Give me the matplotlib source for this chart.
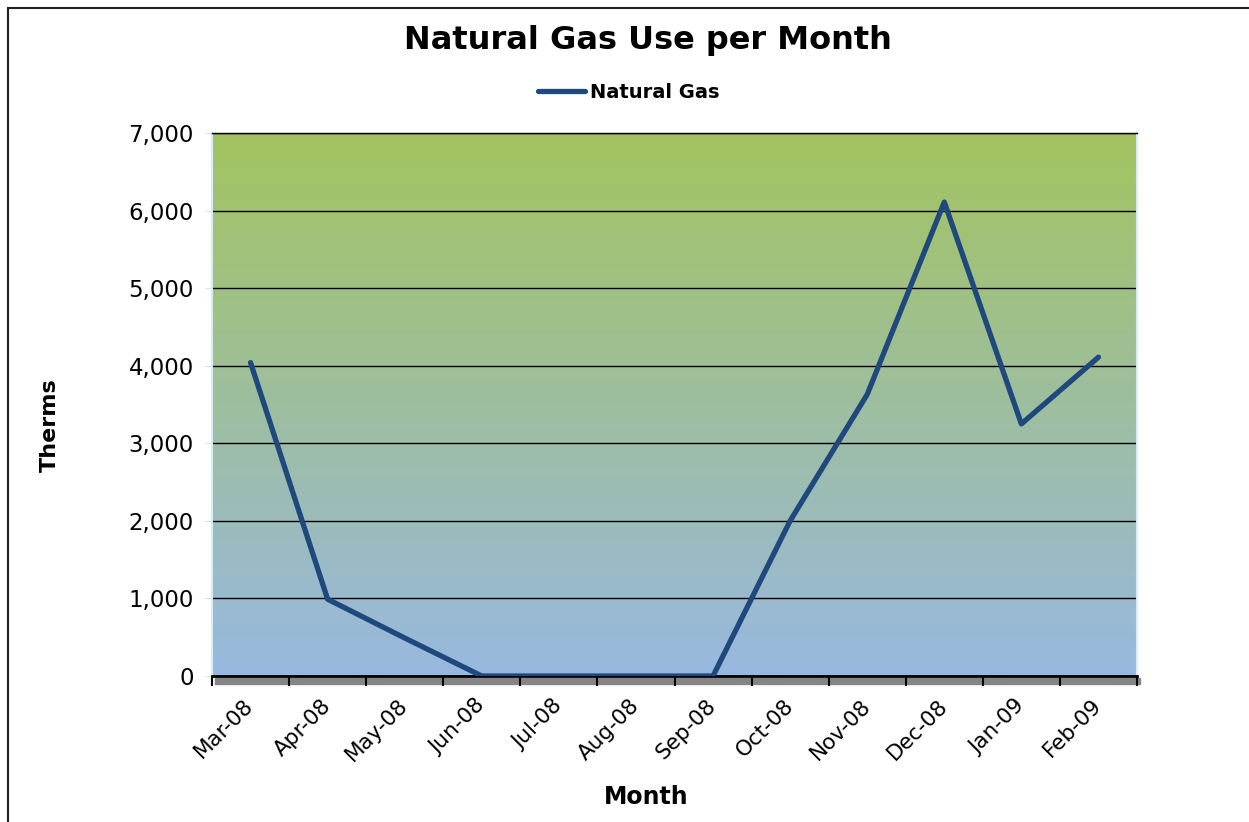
import numpy as np
import matplotlib.pyplot as plt
import matplotlib.transforms as mtransforms
from matplotlib.patches import Rectangle
from matplotlib.ticker import FuncFormatter

months = ["Mar-08", "Apr-08", "May-08", "Jun-08", "Jul-08", "Aug-08",
          "Sep-08", "Oct-08", "Nov-08", "Dec-08", "Jan-09", "Feb-09"]
therms = [4040, 990, 490, 0, 0, 0, 0, 2000, 3630, 6110, 3250, 4110]

plt.rcParams['font.family'] = ['DejaVu Sans']

W, H = 1249, 822
fig = plt.figure(figsize=(W / 100, H / 100), dpi=100)

# outer chart border (cut off on the right/bottom like the reference)
fig.patches.append(Rectangle((8 / W, -0.05), 1.2, 1 - 8 / H + 0.05,
                             transform=fig.transFigure, fill=False,
                             edgecolor='#222222', linewidth=1.5))

left, right, top, bottom = 212, 1137, 133, 676
ax = fig.add_axes([left / W, 1 - bottom / H, (right - left) / W, (bottom - top) / H])

# gradient background green (top) -> blue (bottom)
c_top = np.array([163, 196, 94]) / 255
c_bot = np.array([152, 185, 224]) / 255
t = np.linspace(0, 1, 256)[:, None]
grad = (c_top * (1 - t) + c_bot * t)[:, None, :]
ax.imshow(grad, extent=[0, 1, 0, 1], transform=ax.transAxes, aspect='auto', zorder=0)

x = np.arange(len(months))
ax.plot(x, therms, color='#1F497D', linewidth=3.8, solid_joinstyle='round',
        solid_capstyle='round', zorder=3, label='Natural Gas')

ax.set_xlim(-0.5, len(months) - 0.5)
ax.set_ylim(0, 7000)
ax.set_yticks(np.arange(0, 7001, 1000))
ax.yaxis.set_major_formatter(FuncFormatter(lambda v, p: f"{int(v):,}"))
ax.grid(axis='y', color='black', linewidth=1, zorder=1)
ax.set_axisbelow(True)

ax.set_xticks(x)
ax.set_xticklabels(months, rotation=45, ha='right', rotation_mode='anchor', fontsize=15.5)
ax.set_xticks(np.arange(-0.5, len(months)), minor=True)
ax.tick_params(axis='x', which='major', length=0, pad=14)
ax.tick_params(axis='x', which='minor', length=7, width=1.5, color='black')
ax.tick_params(axis='y', length=5, color='#cfe3f0', labelsize=16.5, pad=8)

shift = mtransforms.ScaledTranslation(-7 / 100, 0, fig.dpi_scale_trans)
for lab in ax.get_xticklabels():
    lab.set_transform(lab.get_transform() + shift)

for s in ['left', 'right']:
    ax.spines[s].set_color('#d8ecf6')
    ax.spines[s].set_linewidth(1.5)
ax.spines['top'].set_color('black')
ax.spines['top'].set_linewidth(1)
ax.spines['bottom'].set_color('black')
ax.spines['bottom'].set_linewidth(2)

# shadow below the x axis
fig.patches.append(Rectangle(((left + 3) / W, 1 - (bottom + 8) / H), (right - left) / W, 6 / H,
                             transform=fig.transFigure, color='#858585', zorder=-1))

fig.text(50 / W, 1 - 425 / H, 'Therms', fontsize=16, fontweight='bold', rotation=90,
         ha='center', va='center')
fig.text(646 / W, 1 - 797 / H, 'Month', fontsize=17, fontweight='bold', ha='center',
         va='center')
fig.text(648 / W, 1 - 40 / H, 'Natural Gas Use per Month', fontsize=23, fontweight='bold',
         ha='center', va='center')

fig.legend(loc='center', bbox_to_anchor=(629 / W, 1 - 92 / H), frameon=False,
           prop={'weight': 'bold', 'size': 14}, handlelength=2.4, handletextpad=0.26)

fig.savefig('out.png', dpi=100)
